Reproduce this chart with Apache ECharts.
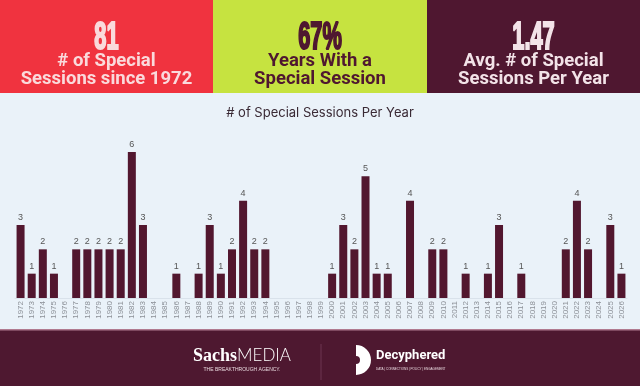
<!DOCTYPE html>
<html><head><meta charset="utf-8">
<script src="https://cdn.jsdelivr.net/npm/echarts@6/dist/echarts.min.js"></script>
<style>html,body{margin:0;padding:0;background:#EAF2F9;}#c{width:640px;height:386px;}</style>
</head><body><div id="c"></div>
<script>
const years = ['1972','1973','1974','1975','1976','1977','1978','1979','1980','1981','1982','1983','1984','1985','1986','1987','1988','1989','1990','1991','1992','1993','1994','1995','1996','1997','1998','1999','2000','2001','2002','2003','2004','2005','2006','2007','2008','2009','2010','2011','2012','2013','2014','2015','2016','2017','2018','2019','2020','2021','2022','2023','2024','2025','2026'];
const sessions = [3,1,2,1,0,2,2,2,2,2,6,3,0,0,1,0,1,3,1,2,4,2,2,0,0,0,0,0,1,3,2,5,1,1,0,4,0,2,2,0,1,0,1,3,0,1,0,0,0,2,4,2,0,3,1];
const statValues = ['81','67%','1.47'];
const statLines = [['# of Special','Sessions since 1972'],['Years With a','Special Session'],['Avg. # of Special','Sessions Per Year']];
const chartTitle = '# of Special Sessions Per Year';

const panelColors = ['#F0333F','#C6E340','#4F1730'];
const panelText = ['#FADADC','#4F1730','#F3E3E8'];
const panelX = [0,213,427];
const panelW = [213,214,213];

const graphics = [];
for (let i=0;i<3;i++){
  graphics.push({type:'rect',shape:{x:panelX[i],y:0,width:panelW[i],height:93},style:{fill:panelColors[i]},z:0});
  const cx = panelX[i]+panelW[i]/2;
  graphics.push({type:'text',x:cx,y:38,scaleX:0.56,style:{text:statValues[i],align:'center',verticalAlign:'middle',fontFamily:'Liberation Sans',fontWeight:900,fontSize:39,fill:panelText[i],stroke:panelText[i],lineWidth:2.2},z:2});
  graphics.push({type:'text',x:cx,y:61,style:{text:statLines[i][0],align:'center',verticalAlign:'middle',fontFamily:'Roboto, Liberation Sans',fontWeight:'bold',fontSize:18.5,fill:panelText[i]},z:2});
  graphics.push({type:'text',x:cx,y:79,style:{text:statLines[i][1],align:'center',verticalAlign:'middle',fontFamily:'Roboto, Liberation Sans',fontWeight:'bold',fontSize:18.5,fill:panelText[i]},z:2});
}
// footer
graphics.push({type:'rect',shape:{x:0,y:330,width:640,height:56},style:{fill:'#4E1830'},z:0});
graphics.push({type:'rect',shape:{x:0,y:329,width:640,height:1.5},style:{fill:'#B07A90'},z:0});
graphics.push({type:'text',x:242,y:356,style:{text:'{a|Sachs}{b|MEDIA}',align:'center',verticalAlign:'middle',rich:{a:{fontFamily:'Liberation Serif',fontWeight:'bold',fontSize:18,fill:'#ffffff'},b:{fontFamily:'Lato, Liberation Sans',fontWeight:300,fontSize:17,fill:'#ffffff'}}},z:2});
graphics.push({type:'text',x:242,y:370,style:{text:'THE BREAKTHROUGH AGENCY.',align:'center',verticalAlign:'middle',fontFamily:'Liberation Sans',fontSize:5,fill:'#e8d8de'},z:2});
graphics.push({type:'line',shape:{x1:321,y1:344,x2:321,y2:380},style:{stroke:'#6D3550',lineWidth:1},z:2});
graphics.push({type:'sector',shape:{cx:356,cy:360,r:15,r0:4,startAngle:-Math.PI/2,endAngle:Math.PI/2},style:{fill:'#ffffff'},z:2});
graphics.push({type:'text',x:376,y:356,style:{text:'Decyphered',align:'left',verticalAlign:'middle',fontFamily:'Roboto, Liberation Sans',fontWeight:'bold',fontSize:13,fill:'#ffffff'},z:2});
graphics.push({type:'text',x:376,y:369,style:{text:'DATA | CONNECTIONS | POLICY | ENGAGEMENT',align:'left',verticalAlign:'middle',fontFamily:'Liberation Sans',fontSize:3,fill:'#e8d8de'},z:2});
// title
graphics.push({type:'text',x:320,y:113,style:{text:chartTitle,align:'center',verticalAlign:'middle',fontFamily:'Inter, Liberation Sans',fontSize:13,fill:'#3A2A35'},z:2});

const chart = echarts.init(document.getElementById('c'));
chart.setOption({
  backgroundColor:'#EAF2F9',
  animation:false,
  grid:{left:15,right:13,top:152,bottom:88,containLabel:false},
  xAxis:{type:'category',data:years,
    axisLine:{show:true,lineStyle:{color:'#D9E2EB'}},axisTick:{show:false},
    axisLabel:{interval:0,rotate:90,fontSize:8,color:'#8C9097',margin:3,fontFamily:'Liberation Sans'}},
  yAxis:{type:'value',min:0,max:6,show:false,splitLine:{show:false}},
  series:[{type:'bar',data:sessions,barWidth:8,itemStyle:{color:'#52172F'},
    label:{show:true,position:'top',distance:3,fontSize:9,color:'#555',fontFamily:'Liberation Sans',
      formatter:p=>p.value>0?String(p.value):''}}],
  graphic:graphics
});
</script></body></html>
